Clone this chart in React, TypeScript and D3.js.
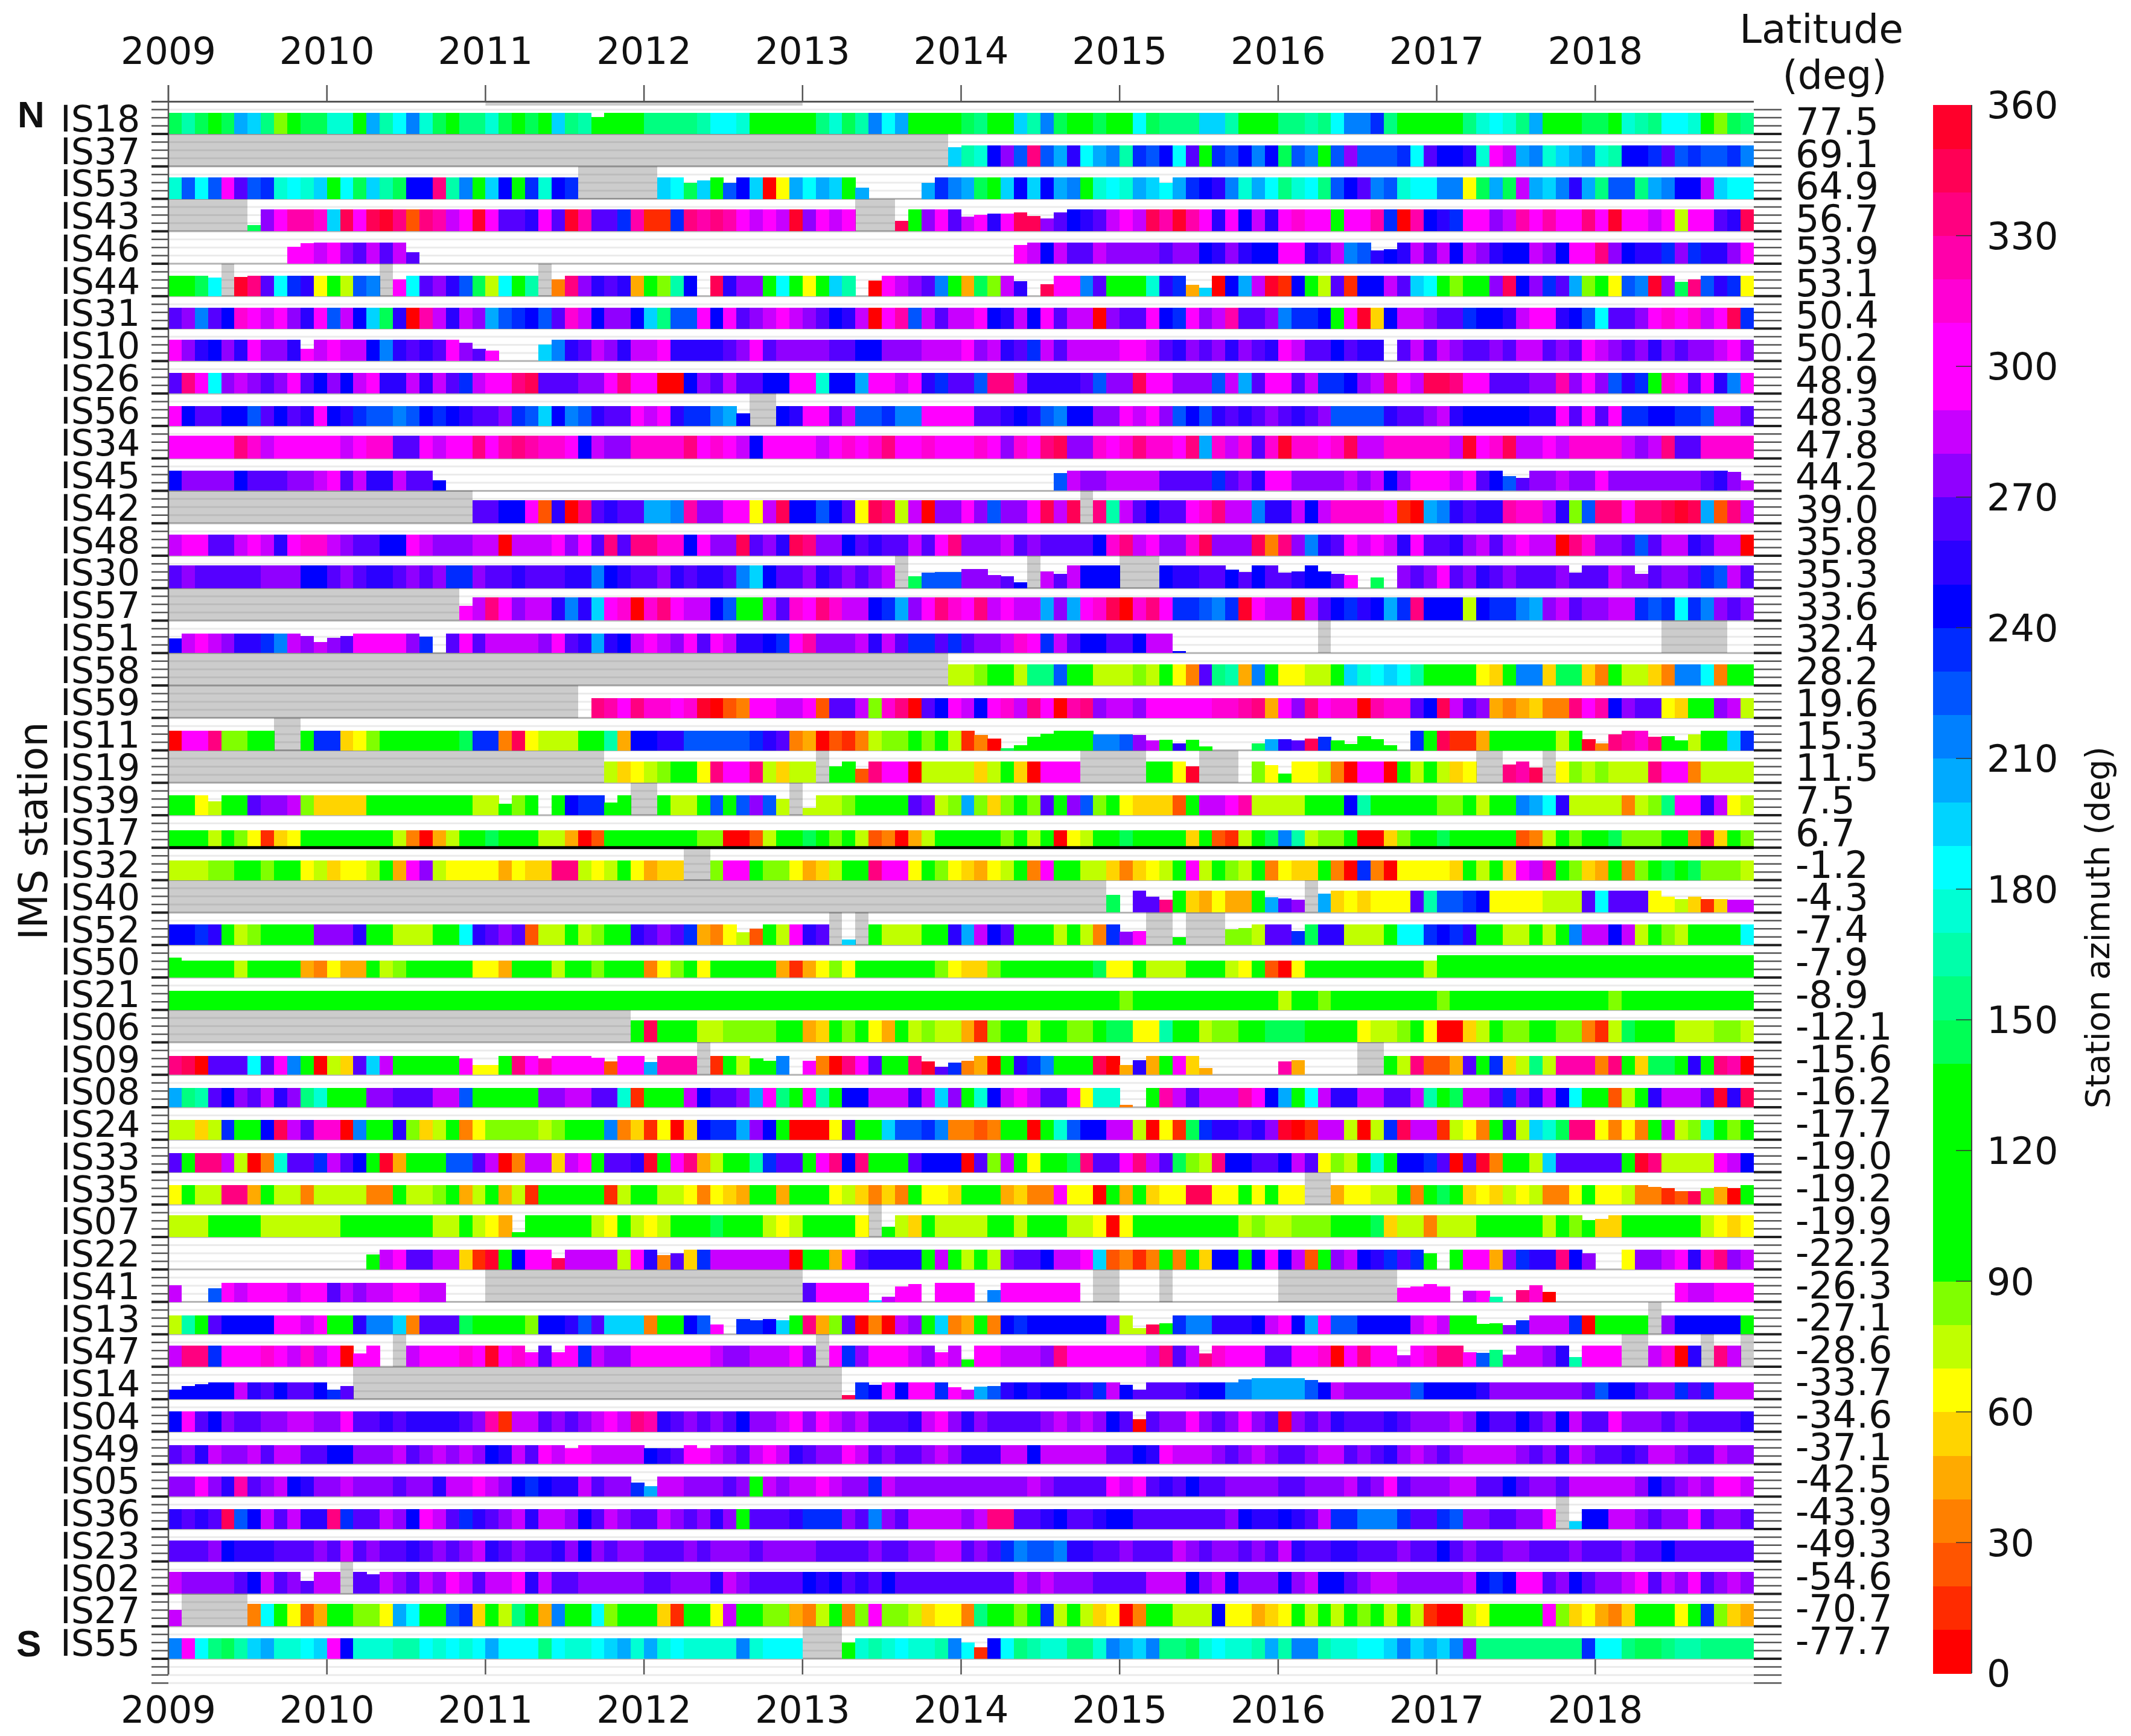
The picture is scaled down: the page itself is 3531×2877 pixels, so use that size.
import React from "react";
import * as d3 from "d3";

const years = ["2009","2010","2011","2012","2013","2014","2015","2016","2017","2018"];
const stations = ["IS18","IS37","IS53","IS43","IS46","IS44","IS31","IS10","IS26","IS56","IS34","IS45","IS42","IS48","IS30","IS57","IS51","IS58","IS59","IS11","IS19","IS39","IS17","IS32","IS40","IS52","IS50","IS21","IS06","IS09","IS08","IS24","IS33","IS35","IS07","IS22","IS41","IS13","IS47","IS14","IS04","IS49","IS05","IS36","IS23","IS02","IS27","IS55"];
const latitudes = ["77.5","69.1","64.9","56.7","53.9","53.1","50.4","50.2","48.9","48.3","47.8","44.2","39.0","35.8","35.3","33.6","32.4","28.2","19.6","15.3","11.5","7.5","6.7","-1.2","-4.3","-7.4","-7.9","-8.9","-12.1","-15.6","-16.2","-17.7","-19.0","-19.2","-19.9","-22.2","-26.3","-27.1","-28.6","-33.7","-34.6","-37.1","-42.5","-43.9","-49.3","-54.6","-70.7","-77.7"];
const colorTicks = [0,30,60,90,120,150,180,210,240,270,300,330,360];

// 36 colour levels of 10 degrees each, from 0 to 360
const palette = ["#ff0000","#ff2b00","#ff5500","#ff8000","#ffaa00","#ffd400","#ffff00","#c0ff00","#80ff00","#00ff00","#00ff00","#00ff00","#00ff00","#00ff00","#00ff55","#00ff80","#00ffaa","#00ffd4","#00ffff","#00d4ff","#00aaff","#0080ff","#0055ff","#002bff","#0000ff","#2b00ff","#5500ff","#9000ff","#c800ff","#ff00ff","#ff00ff","#ff00d4","#ff00aa","#ff0080","#ff0055","#ff002b"];

// Azimuth per month, one group per year. Each character is the 10-degree azimuth
// bin in base 36 (0 = 0-10 deg ... z = 350-360 deg); "." no data, "#" station not yet/not operating.
const NONE = "............";
const GREY = "############";
const ALLG = "bbbbbbbbbbbb";
const azimuthRows: Record<string, string[]> = {
  IS18: ["egebekjf8bee","hhbkgilhebff","hebebjfgbbbb","ffffgiihbdbb","bfheglikbdbb","efbbjglebbeb","biefffjjgbbb","ffgfillnfbbb","bbfhihfkbdbe","ebhgfiihb8ef"],
  IS37: [GREY,GREY,GREY,GREY,"###########j","ghormxmkpikl","gnmoiqbnmolo","emlcmrmmmniq","oophusklhjkl","hgoonqmnmmnl"],
  IS53: ["hmimuqmnhihj","biejgeooxglb","jobnhon#####","#jiejbmoj06k","ikjbk....knl","kecjojoklchi","hkjiknoplhki","fhifmoqlmhii","ll6ekeskjlpk","fmmfkloosjii"],
  IS43: ["######eruwwv","jyuyzx2xwsuz","uqqpuqzwqqnw","11nxwxwususz","rusu###ybruq","supuyyrqopqs","usywzwupuosp","uvuubuuwn0wo","pnuurswuwuux","uzuusu7uuqpy"],
  IS46: [".........uus","urqsqsq.....",NONE,NONE,NONE,"....usosqqsr","rrrqrroprpoo","uupqslmpopsq","sosrpoosrouu","xroppnrnppru"],
  IS44: ["bbei#zxqinp6","b7ml#uiqrpme","7ibg#3xrpqp4","b8go.yprrbib","6bjg.0usrqlb","4e8sp.yuulqb","bbhpn4j0oksz","1ob7q1oosqji","b8bbryornqk8","b6mlzrexmpn6"],
  IS31: ["qrlqovusurpu","msojep0wspsr","kmnomqvsorro","jfmmuouqrsus","rqops0uwmsqs","suopsouqss0r","qquonurswqqr","lnnobuz5ossr","qqnoopsuupom","iqqruvuvsuyn"],
  IS10: ["urporpurrpus","ussolpqpqurq","u...jlpqsrps","suppppqruqrr","rrqqoorrrsss","urspqnsqssss","uusqprqrprqp","usqqoqpp.qsq","srqqrqssqrqu","srqrprqrrsur"],
  IS26: ["qxuirsrqruqo","rosuppspsqns","uuxyqqqrruxu","u00orqsqqoou","uhookuusupnq","qmxxsppppqmr","ryuurrrmskqu","uqsnnorsxusy","yxuuqqqrrwru","rmpnbvuquplu"],
  IS56: ["uoqqoomqoqpu","opnmmlmonopq","qrnmjolmpqqu","supnnlko##op","uuqsmmnlluuu","uqqpopmloorr","usurmompqpqr","qpqrmmmmpqqr","spoooooppuqu","qunnoonnmssq"],
  IS34: ["uuuuuxvsuuuu","usuvvqqusuux","uwxwvvuosrrv","vvvxuvusouuu","usuvuvxuuvuu","uvurvuxyrrvu","vxvvuxkvsvqv","zvvuvyssvvvv","vszuvyssusvv","vvsrsxqqvvvv"],
  IS45: ["orrrroqqqrrs","uqsppsqqo...",NONE,NONE,NONE,".......msrrs","sssqqqqnqrpu","urrrrsrsoruu","usuqomqrrsrr","urrrrrrrqprs"],
  IS42: [GREY,"###########q","qoou2p0xqpqq","kklwrruu6syo","omoq6yx7s0rr","urmrruysy#xg","sqoqquvxsslp","psosvvvvu10k","lpqppwvvsp8m","xxuxxyzyk2xs"],
  IS48: ["suuqqsuspuvv","srqqoousrrrs","s0sssuruqxqx","xvvourryqrpy","xrroqpqqsqux","rrrsqrqqqqov","xsurrvyrrry3","xrlpqususpuq","qprsqsuss0xv","rrqmqsspqss0"],
  IS30: ["qrqqqqqrrroo","qrqppqrqrnnr","qqpqqqpplopq","qrpqppqljoqq","rpqrqrs#emmm","rrrqo#sqsooo","###oppqqoqoq","qpooqu.e.rqr","uqrpqrqqqrqq","qsrrqrrqnmsq"],
  IS57: [GREY,"##########us","xurssplpjuv0","vxussombbsqv","uxvssonkruxv","uxsusskrkuvy","0vxunnmlnzus","szsqonpoknxo","oo7onnlkrsqr","rssnmninlrqr"],
  IS51: ["osusrppnlsrs","rquuuurn.quq","ssssruqpkpos","usruquspponu","wrrrspsqnnqn","qrrsvunsqooq","qosso.......","...#........",NONE,".....#####.."],
  IS58: [GREY,GREY,GREY,GREY,"###########7","78bb7ffmbb77","787b63qfg4lb","6677cjhijigb","bbb65bll5ee5","3b7753lli3bb"],
  IS59: [GREY,GREY,"#######.xwux","vvuvz023uuss","u2qqs8vx0qou","souvsxu0wxrs","sruuuuuvvwx4","urxuvv0wvvqo","ysqr434533xu","worqq65bbrs7"],
  IS11: ["0uux88bb##bn","n568bbbbbben","n3y6777bbg4o","oppmmmmmnpq3","40213788b8b7","130ebbbbbbll","mrsbpbb...ek","pqynbbbbb.nb","y114bbbbb7bz","3xwvxbb7bbjn"],
  IS19: [GREY,GREY,"#########756","78bb6xuux757","7#bb2xuu0777","757b50uuu###","##bb6z###.86","b66730uu0b7b","756##xwy#687","8777xuu37777"],
  IS39: ["bb67bbqrrs85","555bbbbbbbb7","7b8b.bonnbb#","#b77bmbmrm7#","7778bbbbqr78","k858b8qbrm8b","65552bsstw77","77bbbogbbbbb","88b7bblkip77","77378fuups67"],
  IS17: ["bbb7b86156bb","bbbbb73047bb","ebbb77402bbb","bbbb880027bb","eb8b723047bb","bbb8b7b067bb","ebbbb5b217be","lg788b0058bb","ebbbbb237b8b","be888bb3y5b8"],
  IS32: ["77788bb8bb67","5667b4ur7666","64655xx767b6","455##8uub886","457bbxtu6b86","5467b3ubb775","3567bu7b87b3","655b30n30666","65b7b5uswb85","4b38bebe8887"],
  IS40: [GREY,GREY,GREY,GREY,GREY,"###########e",".qqxb54644bk","qr#k565666qg","mmno6666777q","iqqq667515ss"],
  IS52: ["oonpb78bbbbr","rrpbb777bbip","qrq277b78bbp","qrqn43672b7u","pq#j#b777bbp","ksoqbbb7b73n","ru##b###887q","qnepp777biin","onpbb77b7bls","sos7b87bbbbi"],
  IS50: ["bbbbb7bbbb43","644b78bbbbb6","64bbb7bb8bbb","368b6bbbbb41","4686bbbbbb86","558bbbbbbbe6","6b777bbb76b2","06bbbbbbbbb7",ALLG,ALLG],
  IS21: [ALLG,ALLG,ALLG,ALLG,ALLG,ALLG,"8bbbbbbbbbbb","7bb8bbbbbbbb","8bbbbbbbbbbb","b8bbbbbbbbbb"],
  IS06: [GREY,GREY,"###########b","ybbb778888bb","45b8b64b7877","418bb7bb88be","e66gbb788bbe","eebbbb6778b6","0057b88bb883","17ebbb777887"],
  IS09: ["xy0qqqiqulb0","75qjsbbbbbu6","6bxuwuuuu2uu","kwww#1b7bbl.","u30xuqbbxzqn","340bpnlbbby0","4p4bu54.....","w4....##b7x2","24qbn57f7www","3xb5eebpbxw0"],
  IS08: ["kfgqorqsprfh","bbbrrqqqssmb","bbbbrrssqqh1","bbbsoqqrkufb","ugboossspsjr","bhosusqqu6hh","3.bwsqssswuo","kbisppssqqsg","bessqnrpsoib","b27bpsssqzpy"],
  IS24: ["7757nbboysqv","v0lbbp857b36","888878bbbl35","1605onnkrob0","006qbbjmmnl3","323bb0bhmoos","s7061enppqpr","z01ss707nyss","1763bq7jhexx","6363bs78hb8b"],
  IS33: ["qbxxs703hqqn","sqobz4bbbmmq","s03ss5subqqp","zbux47bbgnqq","buxoxbbbqooo","0q8sb6bbexqq","uxsqe87xooqq","osq687bhboon","q0qz3bb7jqqq","qqbzx7777uso"],
  IS35: ["6b77xx4b7737","77733b778b47","b471bbbbb17b","b7763654bb4b","bb675353b665","bbb4533u660b","4b566yy66b6b","66##46677b3b","eb565767336b","6673312y840b"],
  IS07: ["777bbbb77777","7bbbbbbb77b7","64bbbbbb76b7","67bbbebbb767","bbbb6#b75b77","77bb7bbb7760","6bbbbbbbb787","7888bbbe5773","777bbbbb7b8b","55bbbbbb7656"],
  IS22: [NONE,"...bsuqqss51","zbouuyssss7u","p3q5nssssss0","bb4uqppppbsb","7b7rqqossuj2","313b3b5oobou","os2brsopnqnb",".buu4rnppxor","..6rrsupvxrs"],
  IS41: ["s..musuuusuu","qsrssuuss...",GREY,GREY,"quuuujsuu.uu","u.luuuuuu.##","...#........","#########uuu","u.sug.xv0...","......ussuuu"],
  IS13: ["7gbqoooouusu","bbpllj3qqqeb","bbb8oopmqjjj","3bbomu.nnojb","x48q030srbj3","4b3onoooooos","77ybnllpppos","uokummoooosu","sbbbbrnsssn0","bbbb#rooooob"],
  IS47: ["sxxnuuuvusvs","u0uu.#suuuvu","zuvuquunsrru","uuuuusrrsssu","r#unruuusrus","buusssrxuuuu","uusxqsxvuuuq","quuv0uxuusuv","xxumfsssrpgu","uu##sv0p#xs#"],
  IS14: ["ooooospqoqqo","nq##########",GREY,GREY,"###ynououunu","skmpopoopqns","oqqqqpoollkk","kkmosrrrrrmo","oooprrrrrrrq","mooqrrnqnsss"],
  IS04: ["ouqorqqrrssr","ruqqpqppppqr","w1ssqrqrsusx","wpqrqrqorrsu","rusrsqqqpsur","prqqqqrsrsro","q0qrrurqrurq","zrqrpqqqpqrr","rsroqqoqrosq","qurrrqrqqqqp"],
  IS49: ["qrpsrrsqssqq","oorrrsqrsrsr","opsqusuussss","opquusrqsusp","qrrusqrqqrsr","pppssosssssq","qopusssrqrsr","qqrssqrqprsr","qrssssrqrpsr","qqpqssrqqsrr"],
  IS05: ["rrurpwqrsopr","rsrrrqrrpssu","sronoppsqrrn","kssrrrqrbsrs","susrrnsrrrrr","rrrrrsrqqqqu","suqpqoqqrrrr","qqrrrsqruqrr","rssqqoqrrqss","sssroqrsruus"],
  IS36: ["pqpqymosqspp","xnqqsrousqnp","qrspssroqsrq","qsrqrprbqqqp","nnnrqlrqssss","rsxxqqpoqqpo","oqqqqqqqropp","opqsnnlllnqq","nmrrqqrru#jo","ossrqrruqrrq"],
  IS23: ["qqqropppqqqr","qsqrqqpqrqrs","pqrqqprorqrr","qqqrqrrrqrrr","rqqqqrqqrrss","qrqnlmmlppqq","rqqqsrqrrqrq","spqqppqqqrqq","oqrqqrrqqqrq","qqrqqoqqqqqq"],
  IS02: ["srrrrqosqrqs","s#qqsrqsrusq","ssupsqqrrrrr","qqrrrpsrqqqq","opoqpqoqqqqq","qqqqsrsrrrqq","qqsssorsorrr","orsooqrssrrr","rrsonouuqroq","rrsuqsruqrsr"],
  IS27: ["s#####3ib624","bb886kibbmn5","b7fb4lbbi8bb","b51bb6sbb884","37b38u887566","3fbb8bn7b756","03bb777o6645","6b7b7b8b7b71","0076bbbbu856","435bbb6bn854"],
  IS55: ["luifegjkhhij","uohhhggihihi","kiiifihhijkh","khihhhhlhiii","###bhghihhgl","i1oifghhffhl","kjlffehihhgk","gllghhiijljk","jlrffffffffn","iifeefggffff"],
};

// Typical number of observations per month for each station (sets usual bar height)
const typicalCounts = [30,30,30,31,30,29,30,30,29,28,32,29,33,30,32,33,28,30,28,28,30,28,25,28,31,29,24,27,31,27,27,28,27,28,31,28,27,27,30,24,29,27,28,28,30,31,32,29];

// Months with a different count, written "month:count" (month 0 = Jan 2009)
const countExceptions: Record<string, string> = {
  IS18: "32:24",
  IS37: "59:27",
  IS53: "39:23 40:26 42:23 52:16 57:23 75:23",
  IS43: "6:9 55:15 60:21 61:23 62:25 63:25 64:27 65:22 66:18 67:27",
  IS46: "9:24 10:29 18:16 64:27 91:19 92:21",
  IS44: "3:26 5:27 17:24 29:24 53:22 64:21 66:17 77:16 78:12 114:20 115:24",
  IS10: "10:17 22:26 23:17 24:15 28:23",
  IS56: "43:18",
  IS45: "20:15 67:25 101:21 102:18 118:27 119:15",
  IS30: "56:17 57:22 58:23 59:23 60:27 61:27 62:19 63:17 64:8 66:24 67:20 80:26 81:23 84:22 85:24 87:24 88:20 89:19 91:15 106:22 111:20",
  IS57: "22:21",
  IS51: "0:21 10:24 11:16 12:22 13:24 19:23 76:3",
  IS11: "61:22 62:17 63:3 64:7 65:19 66:24 70:23 71:23 72:23 73:22 74:14 75:15 76:10 77:15 78:6 82:10 83:16 84:16 85:14 86:17 87:19 88:14 89:9 90:20 91:16 92:7 107:16 108:10 109:23 112:19 113:20 114:14 115:23",
  IS19: "50:23 52:20 77:23 83:25 84:13 101:26 103:22",
  IS39: "3:20 25:16 33:18 46:23 48:10",
  IS40: "71:25 74:23 75:18 83:22 84:20 85:18 87:27 113:23 114:19 115:23 116:19 117:19 118:18 119:18",
  IS52: "43:18 44:23 51:8 72:19 73:20 76:11 80:22 81:24 85:20",
  IS50: "0:28 96:32 97:32 98:32 99:32 100:32 101:32 102:32 103:32 104:32 105:32 106:32 107:32 108:32 109:32 110:32 111:32 112:32 113:32 114:32 115:32 116:32 117:32 118:32 119:32",
  IS09: "22:23 23:14 24:14 28:23 32:24 33:19 36:18 44:23 45:20 48:20 57:19 58:11 59:17 60:20 72:14 73:21 78:10 84:19 85:21",
  IS08: "72:3",
  IS35: "112:25 113:23 114:19 115:19 116:23 117:25 118:23",
  IS07: "26:7 54:15 107:24 108:26",
  IS22: "15:21 29:16 37:20 38:23 95:23 107:23",
  IS41: "0:24 3:19 53:2 54:7 55:22 56:25 62:17 93:20 94:22 95:25 96:22 98:16 99:16 100:7 102:17 103:24 104:14",
  IS13: "41:14 43:22 44:20 45:22 46:20 73:9 74:14 75:16 99:15 100:16 101:13 102:20",
  IS47: "14:19 27:21 29:21 58:21 60:10 78:19 93:16 98:21 99:20 100:24 101:17 106:14",
  IS14: "0:14 1:19 2:21 12:14 13:19 51:6 53:20 59:17 60:14 61:18 62:19 72:20 73:14 81:28 82:30 83:30 84:30 85:30 86:27",
  IS04: "73:18",
  IS49: "30:23 36:23 37:23 38:23 40:23",
  IS05: "35:20 36:15",
  IS36: "106:11",
  IS02: "10:18 15:28",
  IS27: "0:23",
  IS55: "51:23 60:23 61:16",
};

const countRange = [0, 46];
const FONT = "'DejaVu Sans', sans-serif";

export default function App() {
  const x = d3.scaleLinear().domain([0, 120]).range([279, 2906]);
  const rowBottom = d3.scaleLinear().domain([0, stations.length - 1]).range([222, 2749]);
  const pitch = rowBottom(1) - rowBottom(0);
  const barH = d3.scaleLinear().domain(countRange).range([0, pitch]);
  const colorScale = d3.scaleQuantize<string>().domain([0, 360]).range(palette);
  const cbY = d3.scaleLinear().domain([0, 360]).range([2773, 174]);
  const stationLabelY = d3.scalePoint().domain(stations).range([218, 2744]);
  const latLabelY = d3.scalePoint().domain(stations).range([223, 2741]);

  const cells = stations.flatMap((st, i) => {
    const codes = azimuthRows[st].join("");
    const over = new Map(
      (countExceptions[st] || "").split(" ").filter(Boolean).map((s) => {
        const [m, c] = s.split(":").map(Number);
        return [m, c] as [number, number];
      })
    );
    return Array.from(codes).map((ch, m) => {
      const nextX = x(m + 1);
      const left = x(m);
      const bottom = rowBottom(i);
      if (ch === ".") return null;
      if (ch === "#") {
        return <rect key={st + m} x={left} width={nextX - left} y={bottom - pitch} height={pitch} fill="#000" fillOpacity={0.2} shapeRendering="crispEdges" />;
      }
      const azimuth = parseInt(ch, 36) * 10 + 5;
      const count = over.get(m) ?? typicalCounts[i];
      const h = barH(count);
      return <rect key={st + m} x={left} width={nextX - left + 0.4} y={bottom - h} height={h} fill={colorScale(azimuth)} shapeRendering="crispEdges" />;
    });
  });

  const gridFractions = [0.25, 0.5, 0.75];
  const rowsWithTop = d3.range(-1, stations.length).map((i) => i);

  return (
    <svg width={3531} height={2877} viewBox="0 0 3531 2877" style={{ position: "absolute", left: 0, top: 0, background: "#fff" }} fontFamily={FONT} fill="#111">
      {/* grid */}
      {rowsWithTop.map((i) => (
        <g key={"g" + i}>
          {gridFractions.map((f) => (
            <line key={f} x1={x(0)} x2={x(120)} y1={rowBottom(i) + f * pitch} y2={rowBottom(i) + f * pitch} stroke="#ebebeb" strokeWidth={3} />
          ))}
          {i >= 0 && <line x1={x(0)} x2={x(120)} y1={rowBottom(i)} y2={rowBottom(i)} stroke="#b4b4b4" strokeWidth={3} />}
        </g>
      ))}
      {/* short grey strip under the top axis, 2011-2013 */}
      <rect x={x(24)} width={x(48) - x(24)} y={169} height={6} fill="#ccc" />
      {cells}
      {/* equator divider */}
      <line x1={x(0)} x2={x(120)} y1={rowBottom(22)} y2={rowBottom(22)} stroke="#000" strokeWidth={5} />
      {/* axes */}
      <line x1={251} x2={x(120)} y1={168.5} y2={168.5} stroke="#555" strokeWidth={3} />
      <line x1={x(0)} x2={x(0)} y1={141} y2={2775} stroke="#555" strokeWidth={2.5} />
      {years.map((yr, k) => (
        <g key={yr}>
          <line x1={x(k * 12)} x2={x(k * 12)} y1={141} y2={169} stroke="#555" strokeWidth={2.5} />
          <line x1={x(k * 12)} x2={x(k * 12)} y1={2750} y2={2775} stroke="#555" strokeWidth={2.5} />
          <text x={x(k * 12)} y={106} textAnchor="middle" fontSize={62}>{yr}</text>
          <text x={x(k * 12)} y={2855} textAnchor="middle" fontSize={62}>{yr}</text>
        </g>
      ))}
      {/* row ticks */}
      {rowsWithTop.map((i) => (
        <g key={"t" + i}>
          {gridFractions.map((f) => {
            const y = rowBottom(i) + f * pitch;
            return (
              <g key={f}>
                <line x1={251} x2={279} y1={y} y2={y} stroke="#555" strokeWidth={2.5} />
                <line x1={2906} x2={2952} y1={y} y2={y} stroke="#555" strokeWidth={2.5} />
              </g>
            );
          })}
          {i >= 0 && (
            <g>
              <line x1={251} x2={279} y1={rowBottom(i)} y2={rowBottom(i)} stroke="#222" strokeWidth={4} />
              <line x1={2906} x2={2952} y1={rowBottom(i)} y2={rowBottom(i)} stroke="#222" strokeWidth={4} />
            </g>
          )}
        </g>
      ))}
      {/* labels */}
      {stations.map((st, i) => (
        <g key={"l" + st}>
          <text x={100} y={stationLabelY(st)} fontSize={60}>{st}</text>
          <text x={2975} y={latLabelY(st)} fontSize={62}>{latitudes[i]}</text>
        </g>
      ))}
      <text x={29} y={211} fontSize={62} fontWeight="bold" fontFamily="'Liberation Sans', sans-serif">N</text>
      <text x={27} y={2745} fontSize={62} fontWeight="bold" fontFamily="'Liberation Sans', sans-serif">S</text>
      <text transform="translate(78,1377) rotate(-90)" textAnchor="middle" fontSize={65}>IMS station</text>
      <text x={3018} y={71} textAnchor="middle" fontSize={66}>Latitude</text>
      <text x={3040} y={147} textAnchor="middle" fontSize={65}>(deg)</text>
      {/* colour bar */}
      {palette.map((c, k) => (
        <rect key={k} x={3203} width={64} y={cbY((k + 1) * 10)} height={cbY(k * 10) - cbY((k + 1) * 10) + 0.5} fill={c} shapeRendering="crispEdges" />
      ))}
      <line x1={3267} x2={3267} y1={cbY(360)} y2={cbY(0)} stroke="#444" strokeWidth={2} />
      {colorTicks.map((t) => (
        <g key={t}>
          {t > 0 && t < 360 && <line x1={3241} x2={3267} y1={cbY(t)} y2={cbY(t)} stroke="#333" strokeWidth={1.5} />}
          <text x={3292} y={cbY(t)} dy="0.36em" fontSize={62}>{t}</text>
        </g>
      ))}
      <text transform="translate(3495,1537) rotate(-90)" textAnchor="middle" fontSize={55}>Station azimuth (deg)</text>
    </svg>
  );
}
